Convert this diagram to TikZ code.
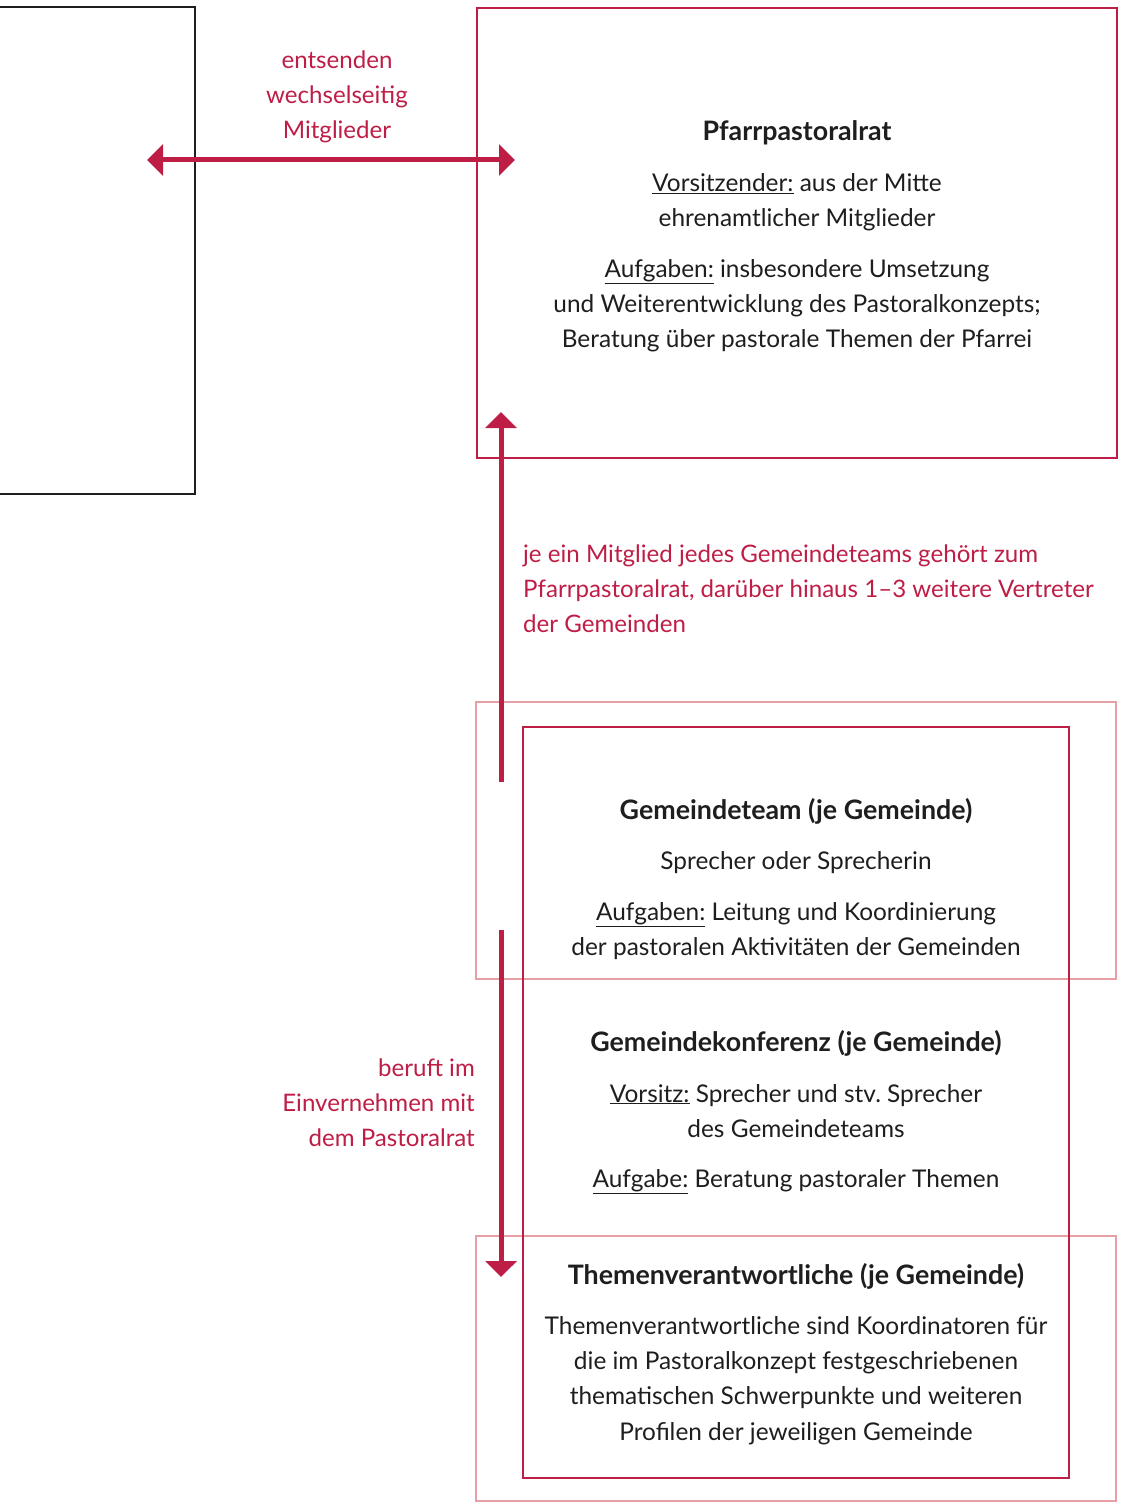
\documentclass[tikz,border=0pt]{standalone}
\usepackage{fontspec}
\setmainfont{Lato}
\usetikzlibrary{arrows.meta}
\definecolor{crim}{RGB}{190,30,70}
\definecolor{lpink}{RGB}{230,160,165}
\definecolor{ink}{RGB}{30,30,30}
\begin{document}
\begin{tikzpicture}[x=1pt,y=-1pt,
  every node/.style={inner sep=0pt,font=\fontsize{24.4}{35}\selectfont},
  ln/.style={anchor=base,text=ink},
  lbl/.style={anchor=base,text=crim,font=\fontsize{24.1}{35}\selectfont},
  ttl/.style={anchor=base,text=ink,font=\fontsize{26.8}{35}\selectfont\bfseries},
  arr/.style={draw=crim,line width=5pt,-{Triangle[width=31pt,length=16pt]}},
  darr/.style={draw=crim,line width=5pt,{Triangle[width=31pt,length=16pt]}-{Triangle[width=31pt,length=16pt]}},
]
\useasboundingbox (0,0) rectangle (1120,1506);
% boxes
\draw[ink,line width=2pt] (-5,7) -- (195,7) -- (195,494) -- (-5,494);
\draw[crim,line width=2pt] (477,8) rectangle (1117,458);
\draw[lpink,line width=2.2pt] (476,702) rectangle (1116,979);
\draw[lpink,line width=2.2pt] (476,1236) rectangle (1116,1501);
\draw[crim,line width=2.6pt] (523,727) rectangle (1069,1478);
% coordinates
\coordinate (hl) at (147,160);
\coordinate (hr) at (515,160);
\coordinate (ub) at (501,782);
\coordinate (ut) at (501,412);
\coordinate (dt) at (501,930);
\coordinate (db) at (501,1277);
\draw[darr] (hl) -- (hr);
\draw[arr] (ub) -- (ut);
\draw[arr] (dt) -- (db);
% labels
\node[lbl] (e1) at (337,69) {entsenden};
\node[lbl] (e2) at (337,104) {wechselseitig};
\node[lbl] (e3) at (337,139) {Mitglieder};
\node[lbl,anchor=base west] (j1) at (523,562) {je ein Mitglied jedes Gemeindeteams gehört zum};
\node[lbl,anchor=base west] (j2) at (523,597) {Pfarrpastoralrat, darüber hinaus 1–3 weitere Vertreter};
\node[lbl,anchor=base west] (j3) at (523,632) {der Gemeinden};
\node[lbl,anchor=base east] (b1) at (475,1076) {beruft im};
\node[lbl,anchor=base east] (b2) at (475,1111) {Einvernehmen mit};
\node[lbl,anchor=base east] (b3) at (475,1146) {dem Pastoralrat};
% Pfarrpastoralrat
\node[ttl] (pt) at (797,141) {Pfarrpastoralrat};
\node[ln] (p1) at (797,192) {\underline{Vorsitzender:} aus der Mitte};
\node[ln] (p2) at (797,227) {ehrenamtlicher Mitglieder};
\node[ln] (p3) at (797,277) {\underline{Aufgaben:} insbesondere Umsetzung};
\node[ln] (p4) at (797,312) {und Weiterentwicklung des Pastoralkonzepts;};
\node[ln] (p5) at (797,347) {Beratung über pastorale Themen der Pfarrei};
% Gemeindeteam
\node[ttl] (gt) at (796,819) {Gemeindeteam (je Gemeinde)};
\node[ln] (g1) at (796,869) {Sprecher oder Sprecherin};
\node[ln] (g2) at (796,920) {\underline{Aufgaben:} Leitung und Koordinierung};
\node[ln] (g3) at (796,955) {der pastoralen Aktivitäten der Gemeinden};
% Gemeindekonferenz
\node[ttl] (kt) at (796,1051) {Gemeindekonferenz (je Gemeinde)};
\node[ln] (k1) at (796,1102) {\underline{Vorsitz:} Sprecher und stv.\ Sprecher};
\node[ln] (k2) at (796,1137) {des Gemeindeteams};
\node[ln] (k3) at (796,1187) {\underline{Aufgabe:} Beratung pastoraler Themen};
% Themenverantwortliche
\node[ttl] (tt) at (796,1284) {Themenverantwortliche (je Gemeinde)};
\node[ln] (t1) at (796,1334) {Themenverantwortliche sind Koordinatoren für};
\node[ln] (t2) at (796,1369) {die im Pastoralkonzept festgeschriebenen};
\node[ln] (t3) at (796,1404) {thematischen Schwerpunkte und weiteren};
\node[ln] (t4) at (796,1440) {Profilen der jeweiligen Gemeinde};
\end{tikzpicture}
\end{document}
